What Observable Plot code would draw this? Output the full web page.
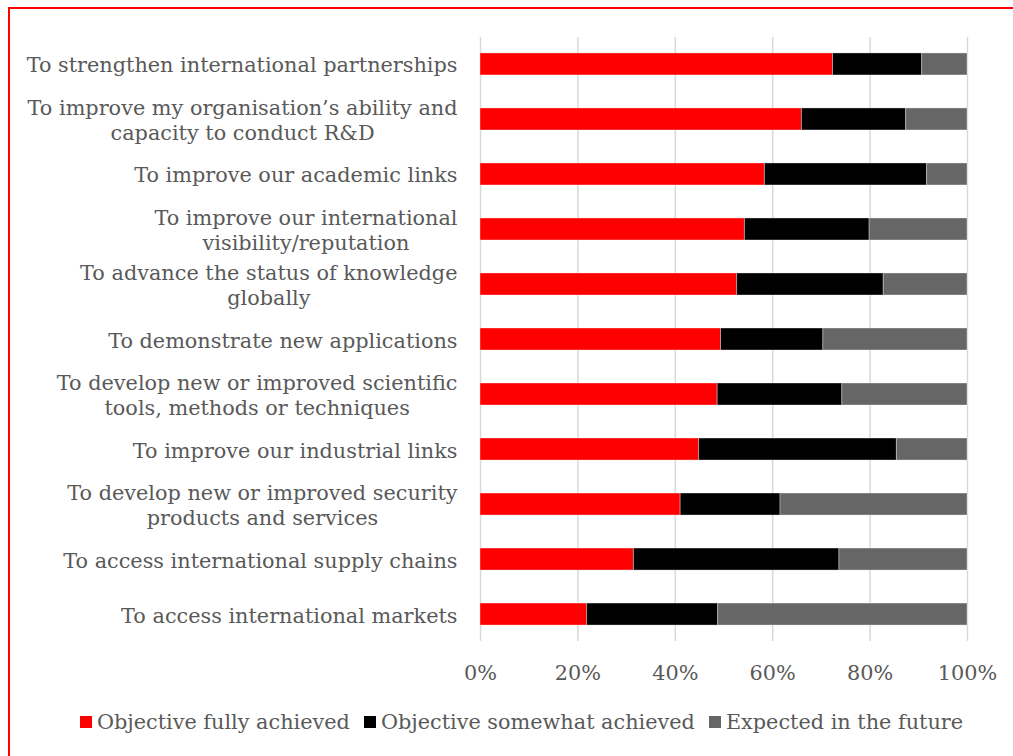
<!DOCTYPE html>
<html>
<head>
<meta charset="utf-8">
<script src="https://cdn.jsdelivr.net/npm/d3@7"></script>
<script src="https://cdn.jsdelivr.net/npm/@observablehq/plot@0.6"></script>
<style>
  html, body { margin: 0; padding: 0; background: #fff; }
  #page { position: relative; width: 1013px; height: 756px; overflow: hidden; }
  #frame { position: absolute; left: 8px; top: 7px; width: 1020px; height: 770px;
           border-left: 2px solid #ff0000; border-top: 2px solid #ff0000; box-sizing: border-box; }
  #chart { position: absolute; left: 0; top: 0; }
  #legend { position: absolute; left: 30px; width: 983px; top: 707px; height: 30px;
            display: flex; justify-content: center; align-items: center; gap: 14px;
            font-family: "DejaVu Serif", serif; font-size: 20.8px; color: #595959; }
  .item { display: flex; align-items: center; white-space: nowrap; }
  .sw { width: 12px; height: 12px; margin-right: 5px; display: inline-block; }
</style>
</head>
<body>
<div id="page">
  <div id="frame"></div>
  <div id="chart"></div>
  <div id="legend"></div>
</div>
<script>
// ---- data ----
const categories = [
  "To strengthen international partnerships",
  "To improve my organisation’s ability and\ncapacity to conduct R&D",
  "To improve our academic links",
  "To improve our international\nvisibility/reputation",
  "To advance the status of knowledge\nglobally",
  "To demonstrate new applications",
  "To develop new or improved scientific\ntools, methods or techniques",
  "To improve our industrial links",
  "To develop new or improved security\nproducts and services",
  "To access international supply chains",
  "To access international markets"
];
const series = ["Objective fully achieved", "Objective somewhat achieved", "Expected in the future"];
const seriesColors = ["#ff0000", "#000000", "#666666"];
const fullyAchieved    = [72.4, 66.0, 58.4, 54.3, 52.7, 49.4, 48.7, 44.9, 41.1, 31.5, 21.9];
const somewhatAchieved = [18.3, 21.4, 33.3, 25.6, 30.1, 21.0, 25.6, 40.6, 20.5, 42.2, 26.9];
const expectedFuture   = [ 9.3, 12.6,  8.3, 20.1, 17.2, 29.6, 25.7, 14.5, 38.4, 26.3, 51.2];
const xTicks = [0, 20, 40, 60, 80, 100];

const valuesBySeries = [fullyAchieved, somewhatAchieved, expectedFuture];
const rows = [];
series.forEach((s, si) => {
  categories.forEach((c, ci) => rows.push({category: c, series: s, value: valuesBySeries[si][ci]}));
});

const FONT = "DejaVu Serif";
const FS = 20.8;
const plot = Plot.plot({
  width: 1013,
  height: 691,
  marginLeft: 480,
  marginRight: 46,
  marginTop: 37,
  marginBottom: 50,
  style: { fontFamily: FONT, fontSize: FS + "px", color: "#595959", background: "transparent" },
  x: { domain: [0, 100], ticks: xTicks, tickFormat: d => d + "%", label: null },
  y: { domain: categories, paddingInner: 0.6, paddingOuter: 0.29, round: false, label: null },
  color: { domain: series, range: seriesColors },
  marks: [
    Plot.gridX(xTicks, { stroke: "#d9d9d9", strokeOpacity: 1, strokeWidth: 1.5 }),
    Plot.barX(rows, Plot.stackX({ order: null, x: "value", y: "category", fill: "series",
      stroke: "#ffffff", strokeOpacity: 0.35, strokeWidth: 1 })),
    Plot.axisX({ ticks: xTicks, tickFormat: d => d + "%", tickSize: 0, tickPadding: 24,
      fontSize: FS, fill: "#595959", label: null }),
    Plot.axisY({ tickSize: 0, tickPadding: 23, fontSize: FS, fill: "#595959",
      lineHeight: 1.2, label: null })
  ]
});
document.getElementById("chart").appendChild(plot);

// center wrapped label lines within their block (as in the original)
plot.querySelectorAll('[aria-label="y-axis tick label"] text').forEach(t => {
  const spans = t.querySelectorAll("tspan");
  if (spans.length < 2) return;
  let maxW = 0;
  spans.forEach(s => { maxW = Math.max(maxW, s.getComputedTextLength()); });
  t.setAttribute("text-anchor", "middle");
  spans.forEach(s => s.setAttribute("x", -maxW / 2));
});

// legend
const legend = document.getElementById("legend");
series.forEach((s, i) => {
  const item = document.createElement("div");
  item.className = "item";
  const sw = document.createElement("span");
  sw.className = "sw";
  sw.style.background = seriesColors[i];
  const lab = document.createElement("span");
  lab.textContent = s;
  item.appendChild(sw); item.appendChild(lab);
  legend.appendChild(item);
});
</script>
</body>
</html>
